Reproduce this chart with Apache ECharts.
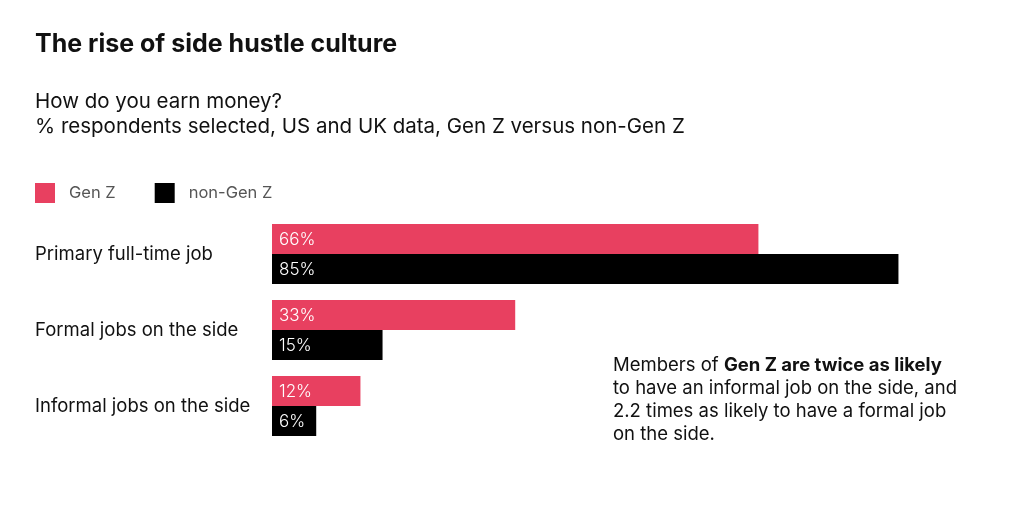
<!DOCTYPE html>
<html>
<head>
<meta charset="utf-8">
<script src="https://cdn.jsdelivr.net/npm/echarts@6/dist/echarts.min.js"></script>
<style>
html,body{margin:0;padding:0;background:#fff;}
#chart{width:1024px;height:510px;}
</style>
</head>
<body>
<div id="chart"></div>
<script>
const categories = ['Primary full-time job', 'Formal jobs on the side', 'Informal jobs on the side'];
const genZ = [66, 33, 12];
const nonGenZ = [85, 15, 6];
const seriesNames = ['Gen Z', 'non-Gen Z'];

const FONT = 'Inter, "Noto Sans", sans-serif';
const chart = echarts.init(document.getElementById('chart'), null, {renderer: 'canvas'});

const labelCfg = {
  show: true,
  position: 'insideLeft',
  offset: [2, 1],
  color: '#fff',
  fontFamily: FONT,
  fontSize: 17,
  fontWeight: 300,
  formatter: p => p.value + '%'
};

chart.setOption({
  backgroundColor: '#fff',
  animation: false,
  title: [
    {text: 'The rise of side hustle culture', left: 30, top: 27,
     textStyle: {fontFamily: FONT, fontSize: 25, fontWeight: 'bold', color: '#111'}},
    {text: 'How do you earn money?\n% respondents selected, US and UK data, Gen Z versus non-Gen Z',
     left: 30, top: 84,
     textStyle: {fontFamily: FONT, fontSize: 20.5, fontWeight: 'normal', color: '#111', lineHeight: 25}}
  ],
  legend: {
    left: 30, top: 178, itemWidth: 20, itemHeight: 20, itemGap: 39,
    icon: 'rect',
    data: seriesNames,
    textStyle: {fontFamily: FONT, fontSize: 16.5, color: '#555', padding: [0, 0, 0, 9]}
  },
  grid: {left: 272, width: 737, top: 216, height: 228, containLabel: false},
  xAxis: {type: 'value', min: 0, max: 100, show: false},
  yAxis: {
    type: 'category', data: categories, inverse: true,
    axisLine: {show: false}, axisTick: {show: false},
    axisLabel: {align: 'left', margin: 237, fontFamily: FONT, fontSize: 18.5, color: '#111'}
  },
  series: [
    {name: seriesNames[0], type: 'bar', data: genZ, barWidth: 30, barGap: '0%',
     itemStyle: {color: '#E84060'}, label: labelCfg},
    {name: seriesNames[1], type: 'bar', data: nonGenZ, barWidth: 30,
     itemStyle: {color: '#000'}, label: labelCfg}
  ],
  graphic: [{
    type: 'text', left: 613, top: 354,
    style: {
      text: 'Members of {b|Gen Z are twice as likely}\nto have an informal job on the side, and\n2.2 times as likely to have a formal job\non the side.',
      rich: {b: {fontWeight: 'bold', fontFamily: FONT, fontSize: 18.5, fill: '#111', lineHeight: 23}},
      fontFamily: FONT, fontSize: 18.5, fill: '#111', lineHeight: 23
    }
  }]
});
</script>
</body>
</html>
